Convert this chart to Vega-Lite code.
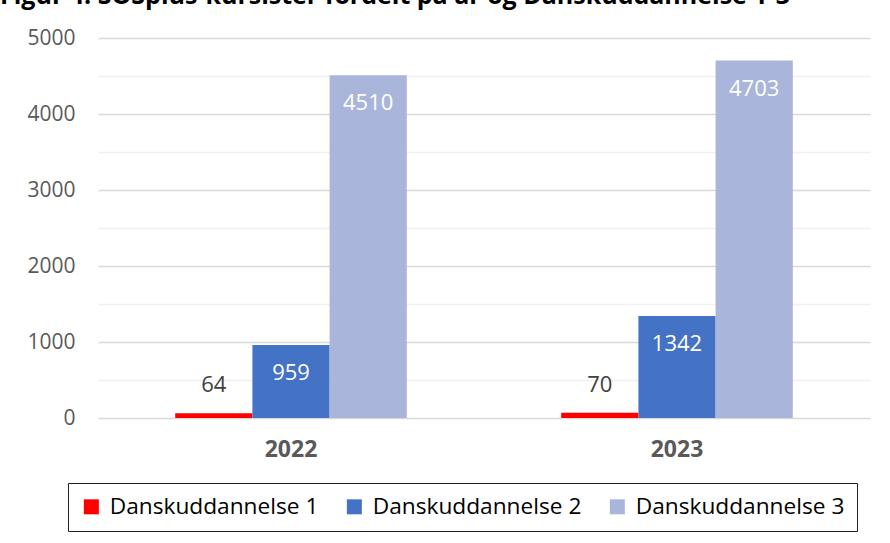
{
  "$schema": "https://vega.github.io/schema/vega-lite/v6.json",
  "autosize": "none",
  "width": 772,
  "height": 380,
  "padding": {"left": 98, "top": 38, "right": 20, "bottom": 125},
  "background": "white",
  "title": {
    "text": "Figur 4. SOSplus-kursister fordelt på år og Danskuddannelse 1-3",
    "anchor": "start",
    "frame": "group",
    "dx": -98,
    "offset": -2,
    "baseline": "alphabetic",
    "font": "Open Sans",
    "fontSize": 25,
    "fontWeight": "bold",
    "color": "#000000"
  },
  "data": {
    "values": [
      {"year": "2022", "series": "Danskuddannelse 1", "value": 64},
      {"year": "2022", "series": "Danskuddannelse 2", "value": 959},
      {"year": "2022", "series": "Danskuddannelse 3", "value": 4510},
      {"year": "2023", "series": "Danskuddannelse 1", "value": 70},
      {"year": "2023", "series": "Danskuddannelse 2", "value": 1342},
      {"year": "2023", "series": "Danskuddannelse 3", "value": 4703}
    ]
  },
  "encoding": {
    "x": {
      "field": "year",
      "type": "nominal",
      "scale": {"paddingInner": 0.4, "paddingOuter": 0.2},
      "axis": {
        "title": null,
        "labelAngle": 0,
        "labelFont": "Open Sans",
        "labelFontSize": 23,
        "labelFontWeight": "bold",
        "labelColor": "#595959",
        "labelPadding": 20,
        "ticks": false,
        "domain": false,
        "grid": false
      }
    },
    "xOffset": {"field": "series", "type": "nominal", "sort": ["Danskuddannelse 1", "Danskuddannelse 2", "Danskuddannelse 3"], "scale": {"paddingInner": 0, "paddingOuter": 0}}
  },
  "layer": [
    {
      "mark": {"type": "bar"},
      "encoding": {
        "y": {
          "field": "value",
          "type": "quantitative",
          "scale": {"domain": [0, 5000], "nice": false},
          "axis": {
            "title": null,
            "values": [0, 1000, 2000, 3000, 4000, 5000],
            "format": "d",
            "labelFont": "Open Sans",
            "labelFontSize": 21,
            "labelColor": "#595959",
            "labelPadding": 23,
            "ticks": false,
            "domain": false,
            "grid": true,
            "gridColor": "#D9D9D9",
            "gridWidth": 1.3
          }
        },
        "color": {
          "field": "series",
          "type": "nominal",
          "scale": {"domain": ["Danskuddannelse 1", "Danskuddannelse 2", "Danskuddannelse 3"], "range": ["#FF0000", "#4472C4", "#A9B5DB"]},
          "legend": {
            "title": null,
            "orient": "none",
            "legendX": -30,
            "legendY": 445,
            "direction": "horizontal",
            "columns": 3,
            "columnPadding": 24,
            "padding": 12,
            "strokeColor": "#222222",
            "symbolType": "square",
            "symbolSize": 225,
            "symbolStrokeWidth": 0,
            "symbolOpacity": 1,
            "labelFont": "Open Sans",
            "labelFontSize": 22.7,
            "labelColor": "#000000",
            "labelLimit": 400,
            "labelOffset": 7
          }
        }
      }
    },
    {
      "transform": [{"filter": "datum.value < 200"}],
      "mark": {"type": "text", "dy": -28, "baseline": "middle", "font": "Open Sans", "fontSize": 22, "color": "#404040"},
      "encoding": {
        "text": {"field": "value", "type": "quantitative", "format": "d"},
        "y": {
          "field": "value",
          "type": "quantitative",
          "scale": {"domain": [0, 5000], "nice": false},
          "axis": {
            "orient": "right",
            "title": null,
            "values": [500, 1500, 2500, 3500, 4500],
            "labels": false,
            "ticks": false,
            "domain": false,
            "grid": true,
            "gridColor": "#F0F0F0",
            "gridWidth": 1.3
          }
        }
      }
    },
    {
      "transform": [{"filter": "datum.value >= 200"}],
      "mark": {"type": "text", "dy": 28, "baseline": "middle", "font": "Open Sans", "fontSize": 22, "color": "#FFFFFF"},
      "encoding": {
        "text": {"field": "value", "type": "quantitative", "format": "d"},
        "y": {
          "field": "value",
          "type": "quantitative",
          "scale": {"domain": [0, 5000], "nice": false},
          "axis": null
        }
      }
    }
  ],
  "resolve": {"axis": {"y": "independent"}},
  "config": {
    "view": {"stroke": null}
  }
}
